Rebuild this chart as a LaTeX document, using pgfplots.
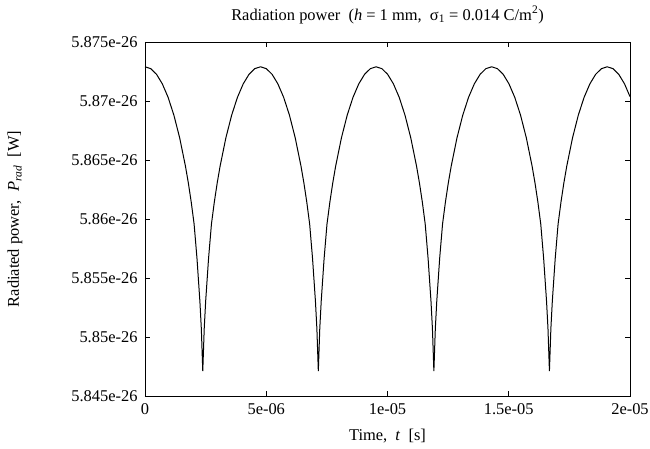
\documentclass[border=0pt]{standalone}
\usepackage{fontspec}
\setmainfont{Liberation Serif}
\usepackage{pgfplots}
\pgfplotsset{compat=1.18}

\begin{document}
\begin{tikzpicture}
\begin{axis}[
	name=ax,
	scale only axis,
	width=485bp, height=354bp,
	xmin=0, xmax=20,
	ymin=5.845, ymax=5.875,
	xtick={0,5,10,15,20},
	xticklabels={0,5e-06,1e-05,1.5e-05,2e-05},
	ytick={5.845,5.85,5.855,5.86,5.865,5.87,5.875},
	yticklabels={5.845e-26,5.85e-26,5.855e-26,5.86e-26,5.865e-26,5.87e-26,5.875e-26},
	tick align=inside,
	major tick length=5bp,
	tick style={black, line width=0.8bp},
	axis line style={line width=0.8bp},
	every tick label/.append style={font=\fontsize{16.5}{19}\selectfont},
	yticklabel style={xshift=-4bp},
	xticklabel style={yshift=-4bp},
	label style={font=\fontsize{16.5}{19}\selectfont},
	title style={font=\fontsize{16.5}{19}\selectfont, yshift=9bp},
	xlabel shift={8bp},
	ylabel shift={42bp},
	title={Radiation power\ \ (\textit{h} = 1 mm,\ \ σ\textsubscript{1} = 0.014 C/m\textsuperscript{2})},
	xlabel={Time,\ \ \textit{t}\ \ [s]},
	ylabel={Radiated power,\ \ \textit{P}\textsubscript{\textit{rad}}\ \ [W]},
	]
	% radiated power vs time (t in microseconds, P in 1e-26 W)
	\addplot[black, line width=1bp] coordinates {
		(0,5.87290) (0.2383,5.87274) (0.4765,5.87226) (0.7148,5.87145) (0.9530,5.87031)
		(1.1913,5.86880) (1.4295,5.86688) (1.6678,5.86448) (1.7869,5.86306) (1.9060,5.86144)
		(2.0251,5.85957) (2.1443,5.85665) (2.2634,5.85303) (2.3229,5.85071) (2.3825,5.84710)
		(2.4421,5.85071) (2.5016,5.85303) (2.6207,5.85665) (2.7399,5.85957) (2.8590,5.86144)
		(2.9781,5.86306) (3.0972,5.86448) (3.3355,5.86688) (3.5737,5.86880) (3.8120,5.87031)
		(4.0502,5.87145) (4.2885,5.87226) (4.5267,5.87274) (4.7650,5.87290)
		(5.0033,5.87274) (5.2415,5.87226) (5.4798,5.87145) (5.7180,5.87031) (5.9563,5.86880)
		(6.1945,5.86688) (6.4328,5.86448) (6.5519,5.86306) (6.6710,5.86144) (6.7901,5.85957)
		(6.9093,5.85665) (7.0284,5.85303) (7.0879,5.85071) (7.1475,5.84710)
		(7.2071,5.85071) (7.2666,5.85303) (7.3857,5.85665) (7.5049,5.85957) (7.6240,5.86144)
		(7.7431,5.86306) (7.8622,5.86448) (8.1005,5.86688) (8.3387,5.86880) (8.5770,5.87031)
		(8.8152,5.87145) (9.0535,5.87226) (9.2917,5.87274) (9.5300,5.87290)
		(9.7683,5.87274) (10.0065,5.87226) (10.2448,5.87145) (10.4830,5.87031) (10.7213,5.86880)
		(10.9595,5.86688) (11.1978,5.86448) (11.3169,5.86306) (11.4360,5.86144) (11.5551,5.85957)
		(11.6743,5.85665) (11.7934,5.85303) (11.8529,5.85071) (11.9125,5.84710)
		(11.9721,5.85071) (12.0316,5.85303) (12.1507,5.85665) (12.2699,5.85957) (12.3890,5.86144)
		(12.5081,5.86306) (12.6272,5.86448) (12.8655,5.86688) (13.1037,5.86880) (13.3420,5.87031)
		(13.5802,5.87145) (13.8185,5.87226) (14.0567,5.87274) (14.2950,5.87290)
		(14.5333,5.87274) (14.7715,5.87226) (15.0098,5.87145) (15.2480,5.87031) (15.4863,5.86880)
		(15.7245,5.86688) (15.9628,5.86448) (16.0819,5.86306) (16.2010,5.86144) (16.3201,5.85957)
		(16.4393,5.85665) (16.5584,5.85303) (16.6179,5.85071) (16.6775,5.84710)
		(16.7371,5.85071) (16.7966,5.85303) (16.9157,5.85665) (17.0349,5.85957) (17.1540,5.86144)
		(17.2731,5.86306) (17.3922,5.86448) (17.6305,5.86688) (17.8687,5.86880) (18.1070,5.87031)
		(18.3452,5.87145) (18.5835,5.87226) (18.8217,5.87274) (19.0600,5.87290)
		(19.2983,5.87274) (19.5365,5.87226) (19.7748,5.87145) (20.0000,5.87037)
	};
\end{axis}
\pgfresetboundingbox
\path ([shift={(-145bp,-53bp)}]ax.south west) rectangle ([shift={(20bp,42bp)}]ax.north east);
\end{tikzpicture}
\end{document}
